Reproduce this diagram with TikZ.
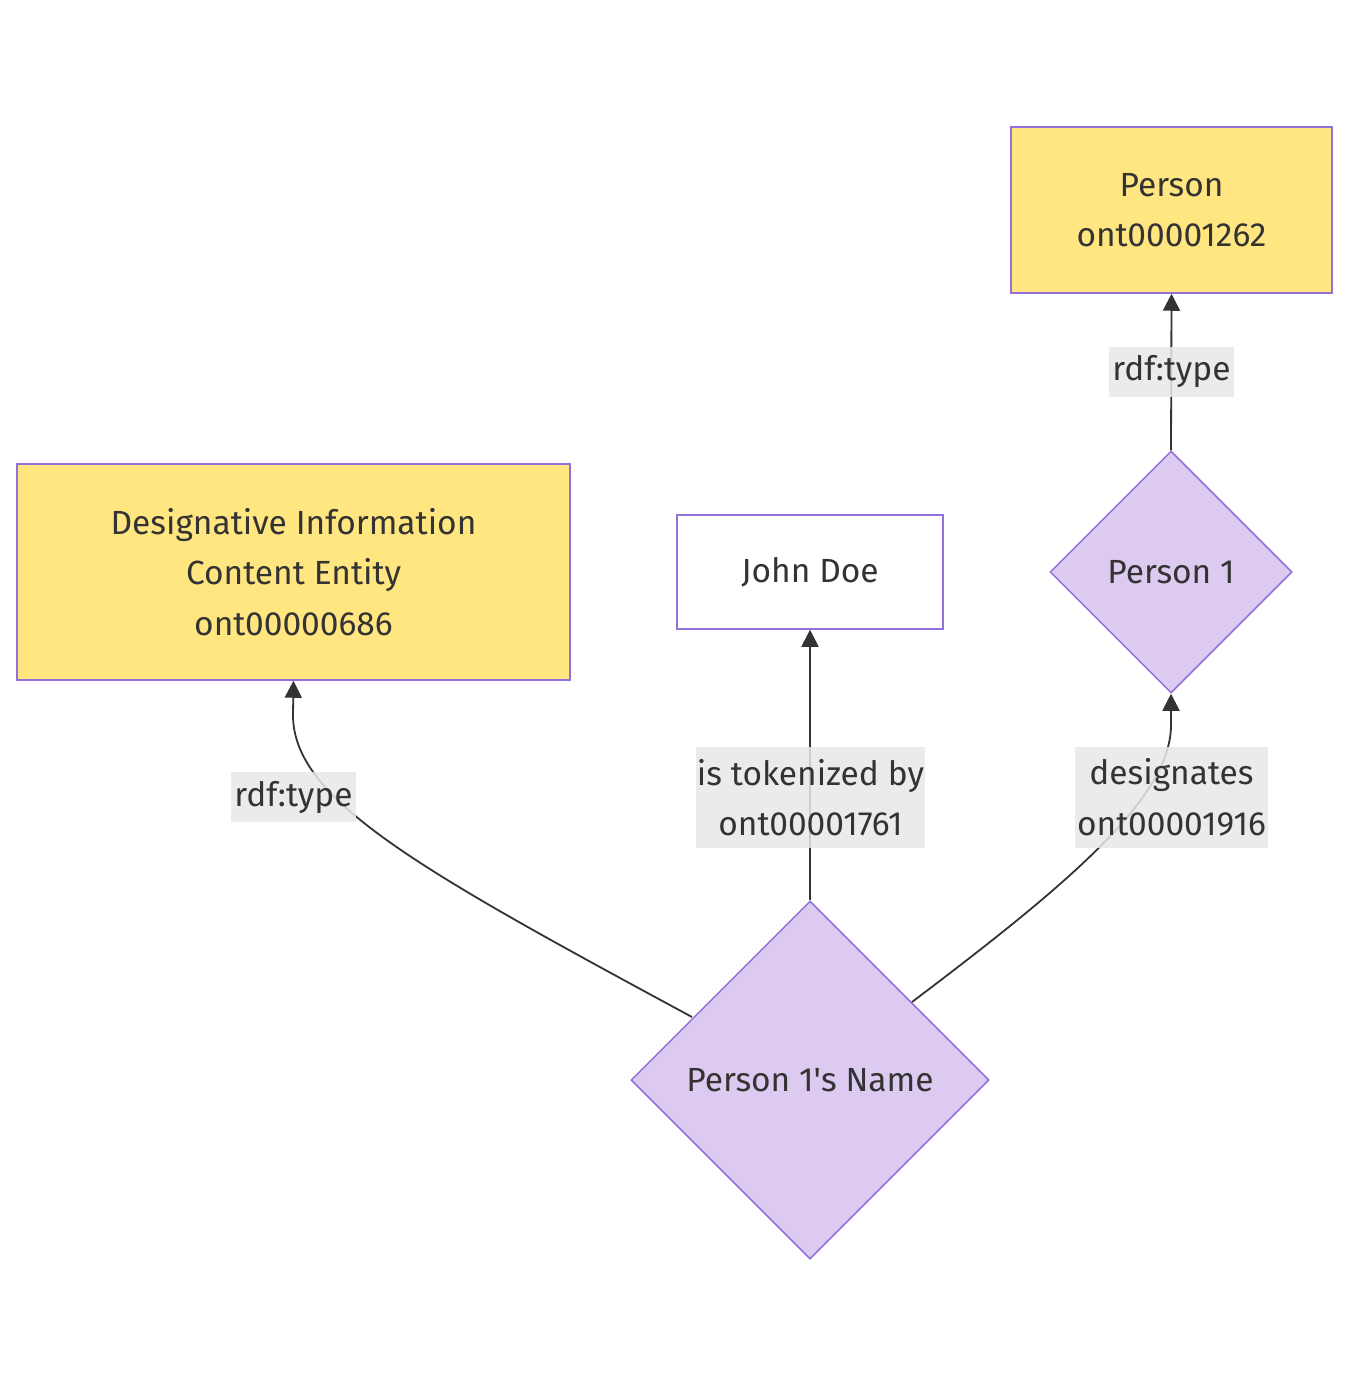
\documentclass[tikz,border=0pt]{standalone}
\usepackage{fontspec}
\setmainfont{Fira Sans}
\usetikzlibrary{shapes.geometric,arrows.meta}
\definecolor{boxfill}{HTML}{FFE680}
\definecolor{stroke}{HTML}{9370DB}
\definecolor{dfill}{HTML}{DCCAF0}
\definecolor{edge}{HTML}{333333}
\definecolor{lblbg}{HTML}{E8E8E8}
\tikzset{
  every node/.style={font=\fontsize{33.5}{50.5}\selectfont, text=edge},
  cls/.style={draw=stroke, line width=1.5pt, fill=boxfill, rectangle, align=center, inner sep=0pt},
  inst/.style={draw=stroke, line width=1.5pt, fill=white, rectangle, align=center, inner sep=0pt},
  dia/.style={draw=stroke, line width=1.5pt, fill=dfill, diamond, aspect=1, inner sep=0pt},
  lbl/.style={fill=lblbg, fill opacity=0.85, text opacity=1, align=center, inner sep=0pt},
  conn/.style={draw=edge, line width=1.8pt, -{Triangle[length=17pt,width=17pt]}},
}
\begin{document}
\begin{tikzpicture}[x=1pt,y=-1pt]
\useasboundingbox (0,0) rectangle (1349,1388);
\node[cls, minimum width=321pt, minimum height=166pt] (person) at (1171.5,210) {Person\\ont00001262};
\node[cls, minimum width=553pt, minimum height=216pt] (dice) at (293.5,572) {Designative Information\\Content Entity\\ont00000686};
\node[inst, minimum width=266pt, minimum height=114pt] (john) at (810,572) {John Doe};
\node[dia, minimum width=242pt, minimum height=242pt] (p1) at (1171,572) {};
\node at (1171,572) {Person 1};
\node[dia, minimum width=358pt, minimum height=358pt] (name) at (810,1080) {};
\node at (810,1080) {Person 1\textquotesingle s Name};
\coordinate (nl) at (692,1017);
\coordinate (nr) at (912,1002);
% edges
\draw[conn] (p1.north) -- (person.south);
\draw[conn] (name.north) -- (john.south);
\draw[conn] (nl) .. controls (420,870) and (293,800) .. (293,715) -- (dice.south);
\draw[conn] (nr) .. controls (1060,890) and (1171,800) .. (1171,725) -- (p1.south);
% labels
\node[lbl, minimum width=125pt, minimum height=50pt] (l1) at (1171.5,372) {rdf:type};
\node[lbl, minimum width=229pt, minimum height=101pt] (l2) at (810.5,797.5) {is tokenized by\\ont00001761};
\node[lbl, minimum width=125pt, minimum height=50pt] (l3) at (293.5,797) {rdf:type};
\node[lbl, minimum width=193pt, minimum height=101pt] (l4) at (1171.5,797.5) {designates\\ont00001916};
\end{tikzpicture}
\end{document}
